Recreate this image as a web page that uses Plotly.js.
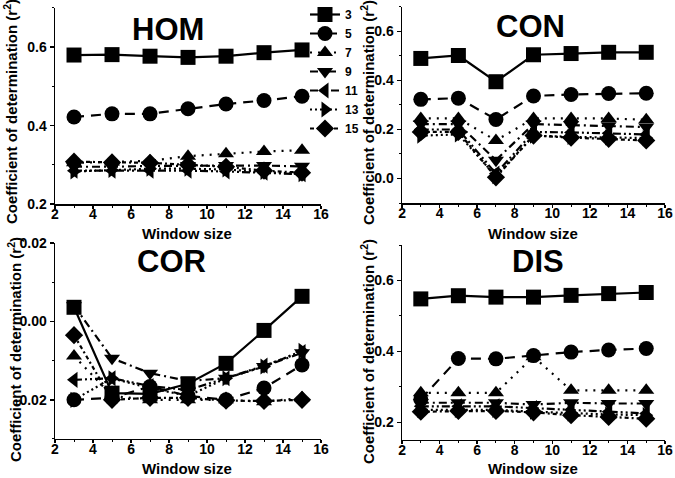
<!DOCTYPE html>
<html>
<head>
<meta charset="utf-8">
<script src="https://cdn.plot.ly/plotly-3.0.1.min.js"></script>
<style>
  html, body { margin: 0; padding: 0; background: #fff; }
  #chart { width: 675px; height: 478px; }
</style>
</head>
<body>
<div id="chart"></div>
<script>
// Fenstergroessen (x) und Legendennamen
var windowSize = [3, 5, 7, 9, 11, 13, 15];
var seriesNames = ['3', '5', '7', '9', '11', '13', '15'];

// r^2 je Reihe (Reihenfolge wie seriesNames)
var hom = [
    [0.580, 0.581, 0.577, 0.574, 0.577, 0.586, 0.593],
    [0.422, 0.430, 0.430, 0.443, 0.455, 0.464, 0.475],
    [0.305, 0.307, 0.310, 0.322, 0.328, 0.334, 0.337],
    [0.295, 0.295, 0.297, 0.298, 0.298, 0.298, 0.296],
    [0.285, 0.285, 0.285, 0.285, 0.283, 0.280, 0.276],
    [0.283, 0.287, 0.290, 0.290, 0.288, 0.282, 0.276],
    [0.308, 0.306, 0.305, 0.300, 0.295, 0.285, 0.280]
];
var con = [
    [0.490, 0.502, 0.395, 0.505, 0.510, 0.515, 0.515],
    [0.323, 0.328, 0.241, 0.337, 0.343, 0.347, 0.348],
    [0.245, 0.245, 0.155, 0.245, 0.245, 0.245, 0.240],
    [0.222, 0.222, 0.075, 0.222, 0.218, 0.215, 0.210],
    [0.200, 0.200, 0.020, 0.190, 0.188, 0.185, 0.180],
    [0.175, 0.180, 0.010, 0.175, 0.170, 0.168, 0.165],
    [0.190, 0.190, 0.005, 0.175, 0.167, 0.162, 0.155]
];
var cor = [
    [0.0036, -0.0183, -0.0185, -0.0159, -0.0107, -0.0023, 0.0064],
    [-0.0200, -0.0195, -0.0166, -0.0190, -0.0200, -0.0170, -0.0111],
    [-0.0088, -0.0190, -0.0200, -0.0200, -0.0200, -0.0205, -0.0195],
    [0.0040, -0.0094, -0.0132, -0.0152, -0.0145, -0.0115, -0.0080],
    [-0.0149, -0.0145, -0.0165, -0.0175, -0.0145, -0.0113, -0.0078],
    [-0.0200, -0.0145, -0.0170, -0.0190, -0.0145, -0.0115, -0.0075],
    [-0.0035, -0.0200, -0.0195, -0.0195, -0.0202, -0.0203, -0.0200]
];
var dis = [
    [0.548, 0.557, 0.553, 0.553, 0.558, 0.563, 0.566],
    [0.265, 0.380, 0.379, 0.388, 0.398, 0.404, 0.408],
    [0.283, 0.283, 0.283, 0.385, 0.290, 0.290, 0.290],
    [0.255, 0.255, 0.255, 0.250, 0.255, 0.253, 0.253],
    [0.245, 0.245, 0.245, 0.240, 0.235, 0.230, 0.225],
    [0.235, 0.235, 0.235, 0.230, 0.225, 0.222, 0.220],
    [0.230, 0.232, 0.232, 0.228, 0.220, 0.215, 0.210]
];
// Achsenbeschriftung COR (mit normalem Bindestrich)
var corTickVals = [-0.02, 0, 0.02];
var corTickText = ['-0.02', '0.00', '0.02'];

var symbols = ['square', 'circle', 'triangle-up', 'triangle-down', 'triangle-left', 'triangle-right', 'diamond'];
var sizes = [15, 15, 14, 14, 14, 14, 14];
var dashes = ['solid', '10px,7px', '2px,6px', '8px,4px,2px,4px', '8px,3px,2px,3px,2px,3px', '2px,3px', '4px,3px,2px,3px'];

var font = 'Liberation Sans, Arial, sans-serif';
var panels = [
    { name: 'HOM', vals: hom, xa: 'x', ya: 'y' },
    { name: 'CON', vals: con, xa: 'x2', ya: 'y2' },
    { name: 'COR', vals: cor, xa: 'x3', ya: 'y3' },
    { name: 'DIS', vals: dis, xa: 'x4', ya: 'y4' }
];

var data = [];
panels.forEach(function (p, pi) {
    // 15 zuerst, damit die 3er-Reihe oben liegt
    for (var i = seriesNames.length - 1; i >= 0; i--) {
        data.push({
            x: windowSize,
            y: p.vals[i],
            xaxis: p.xa,
            yaxis: p.ya,
            type: 'scatter',
            mode: 'lines+markers',
            name: seriesNames[i],
            showlegend: pi === 0,
            line: { color: '#000', width: 2.2, dash: dashes[i] },
            marker: { color: '#000', symbol: symbols[i], size: sizes[i] }
        });
    }
});

function xAxis(domain, anchor) {
    return {
        domain: domain, anchor: anchor, range: [2, 16], dtick: 2, tick0: 0,
        showgrid: false, zeroline: false, showline: true, linecolor: '#000', linewidth: 1.5,
        ticks: 'outside', ticklen: 3, tickwidth: 1.5, tickcolor: '#000', ticklabelstandoff: -6,
        minor: { dtick: 1, ticks: 'outside', ticklen: 2, tickcolor: '#000', tickwidth: 1 },
        tickfont: { family: font, size: 14, weight: 'bold', color: '#000' }
    };
}
function yAxis(domain, anchor, range, dtick, fmt) {
    return {
        domain: domain, anchor: anchor, range: range, dtick: dtick, tick0: 0, tickformat: fmt,
        showgrid: false, zeroline: false, showline: true, linecolor: '#000', linewidth: 1.5,
        ticks: 'outside', ticklen: 4, tickwidth: 1.5, tickcolor: '#000',
        minor: { dtick: dtick / 2, ticks: 'outside', ticklen: 2, tickcolor: '#000', tickwidth: 1 },
        tickfont: { family: font, size: 14, weight: 'bold', color: '#000' }
    };
}

// Panel-Titel und Achsentitel als Annotationen (Pixelpositionen)
var titlePos = [[168, 29], [530, 27], [171, 261], [538, 261]];
var xTitlePos = [[187, 233], [533, 233], [187, 468], [533, 468]];
var yTitlePos = [[11, 112], [367, 113], [14, 350], [367, 352]];

function ann(text, px, py, size, angle) {
    return {
        text: text, xref: 'paper', yref: 'paper',
        x: px / 675, y: 1 - py / 478, xanchor: 'center', yanchor: 'middle',
        showarrow: false, textangle: angle || 0,
        font: { family: font, size: size, weight: 'bold', color: '#000' }
    };
}
var annotations = [];
panels.forEach(function (p, i) {
    annotations.push(ann(p.name, titlePos[i][0], titlePos[i][1], 31));
    annotations.push(ann('Window size', xTitlePos[i][0], xTitlePos[i][1], 15));
    annotations.push(ann('Coefficient of determination (r<sup>2</sup>)', yTitlePos[i][0], yTitlePos[i][1], 15, -90));
});

var corY = yAxis([0.0816, 0.4916], 'x3', [-0.03, 0.02], 0.02, '.2f');
corY.tickvals = corTickVals;
corY.ticktext = corTickText;

var layout = {
    width: 675, height: 478,
    margin: { l: 0, r: 0, t: 0, b: 0 },
    paper_bgcolor: '#fff', plot_bgcolor: '#fff',
    xaxis: xAxis([0.0815, 0.4756], 'y'),
    yaxis: yAxis([0.5732, 0.9833], 'x', [0.2, 0.7], 0.2, '.1f'),
    xaxis2: xAxis([0.5956, 0.9852], 'y2'),
    yaxis2: yAxis([0.5753, 0.9854], 'x2', [-0.1, 0.7], 0.2, '.1f'),
    xaxis3: xAxis([0.0815, 0.4756], 'y3'),
    yaxis3: corY,
    xaxis4: xAxis([0.5956, 0.9852], 'y4'),
    yaxis4: yAxis([0.0795, 0.4874], 'x4', [0.15, 0.7], 0.2, '.1f'),
    showlegend: true,
    legend: {
        x: 305 / 675, y: 1, xanchor: 'left', yanchor: 'top',
        traceorder: 'reversed', bgcolor: 'rgba(0,0,0,0)',
        font: { family: font, size: 12, weight: 'bold', color: '#000' }
    },
    annotations: annotations
};

Plotly.newPlot('chart', data, layout, { displayModeBar: false, staticPlot: true });
</script>
</body>
</html>
